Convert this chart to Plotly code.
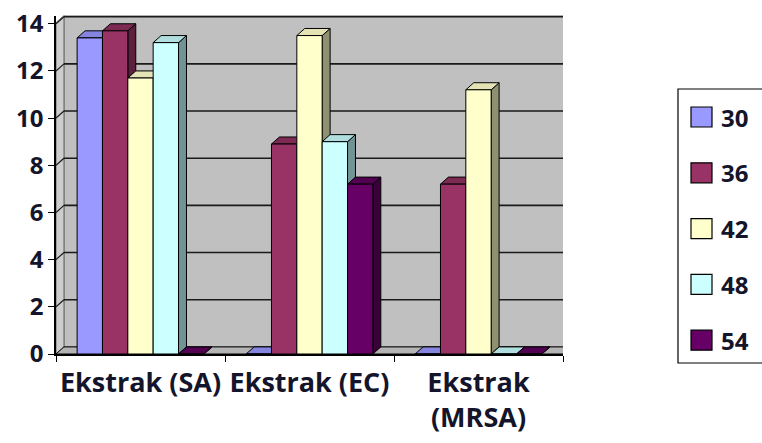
import plotly.graph_objects as go

# ---- data -------------------------------------------------------------
categories = ["Ekstrak (SA)", "Ekstrak (EC)", "Ekstrak<br>(MRSA)"]
series_names = ["30", "36", "42", "48", "54"]
s30 = [13.4, 0.0, 0.0]
s36 = [13.7, 8.9, 7.2]
s42 = [11.7, 13.5, 11.2]
s48 = [13.2, 9.0, 0.0]
s54 = [0.0, 7.2, 0.0]
series_values = [s30, s36, s42, s48, s54]
y_ticks = [0, 2, 4, 6, 8, 10, 12, 14]

# ---- styling ----------------------------------------------------------
W, H = 762, 443
front_colors = ["#9999FF", "#993366", "#FFFFCC", "#CCFFFF", "#660066"]
side_colors = ["#5c5c99", "#5c1f3d", "#8f8f72", "#739494", "#3a003a"]
top_colors = ["#8585e0", "#7d2a53", "#e3e3b5", "#b0dede", "#520052"]
wall_color = "#c0c0c0"
text_color = "#14142a"
FONT = "Open Sans"

BARGAP = 0.25
DX, DY = 0.047, 0.3          # depth offset of the pseudo-3D faces (data units)
Y_TOP = 14.35
n_series = len(series_names)
bar_w = (1 - BARGAP) / n_series
xs = list(range(len(categories)))
x_lo, x_hi = xs[0] - 0.5, xs[-1] + 0.5


def px_x(p):
    return p / W


def px_y(p):
    return 1 - p / H


fig = go.Figure()

for name, vals, col in zip(series_names, series_values, front_colors):
    fig.add_trace(go.Bar(
        x=xs, y=vals, name=name,
        marker=dict(color=col, line=dict(color="black", width=1)),
        showlegend=False, hoverinfo="x+y+name",
    ))

shapes = []
thin = dict(color="#555555", width=0.8)

# back wall and left wall, set back by the depth offset
shapes.append(dict(type="rect", xref="x", yref="y", layer="below",
                   x0=x_lo + DX, x1=x_hi + DX, y0=DY, y1=Y_TOP,
                   fillcolor=wall_color, line=thin))
shapes.append(dict(
    type="path", xref="x", yref="y", layer="below",
    path=(f"M{x_lo},0 L{x_lo + DX},{DY} L{x_lo + DX},{Y_TOP} "
          f"L{x_lo},{Y_TOP - DY} Z"),
    fillcolor="#cdcdcd", line=thin))

# gridlines drawn on the back wall, with their joins on the left wall
for v in y_ticks[1:]:
    shapes.append(dict(type="line", xref="x", yref="y", layer="below",
                       x0=x_lo + DX, x1=x_hi + DX, y0=v + DY, y1=v + DY,
                       line=dict(color="#1a1a1a", width=1.6)))
    shapes.append(dict(type="line", xref="x", yref="y", layer="below",
                       x0=x_lo, x1=x_lo + DX, y0=v, y1=v + DY,
                       line=dict(color="#1a1a1a", width=1.2)))

# floor of the plot
shapes.append(dict(
    type="path", xref="x", yref="y", layer="between",
    path=f"M{x_lo},0 L{x_lo + DX},{DY} L{x_hi + DX},{DY} L{x_hi},0 Z",
    fillcolor="#b4b4b4", line=dict(color="black", width=1),
))

# side and top faces of every column
for i in xs:
    for j in range(n_series):
        h = series_values[j][i]
        left = i - (1 - BARGAP) / 2 + j * bar_w
        right = left + bar_w
        side = (f"M{right},0 L{right + DX},{DY} L{right + DX},{h + DY} "
                f"L{right},{h} Z")
        top = (f"M{left},{h} L{left + DX},{h + DY} L{right + DX},{h + DY} "
               f"L{right},{h} Z")
        shapes.append(dict(type="path", xref="x", yref="y", layer="between",
                           path=side, fillcolor=side_colors[j],
                           line=dict(color="black", width=1)))
        shapes.append(dict(type="path", xref="x", yref="y", layer="between",
                           path=top, fillcolor=top_colors[j],
                           line=dict(color="black", width=1)))

# legend box (runs off the right edge of the page)
shapes.append(dict(type="rect", xref="paper", yref="paper", layer="above",
                   x0=px_x(678), x1=px_x(775), y0=px_y(363), y1=px_y(89),
                   fillcolor="white", line=dict(color="black", width=1.2)))
annotations = []
for k, (name, col) in enumerate(zip(series_names, front_colors)):
    yc = 117 + k * 55.8
    shapes.append(dict(type="rect", xref="paper", yref="paper", layer="above",
                       x0=px_x(691), x1=px_x(712),
                       y0=px_y(yc + 10), y1=px_y(yc - 10),
                       fillcolor=col, line=dict(color="black", width=1.2)))
    annotations.append(dict(xref="paper", yref="paper", x=px_x(719),
                            y=px_y(yc), text=name, showarrow=False,
                            xanchor="left", yanchor="middle",
                            font=dict(family=FONT, size=24, weight="bold",
                                      color=text_color)))

fig.update_layout(
    width=W, height=H,
    margin=dict(l=0, r=0, t=0, b=0),
    paper_bgcolor="white",
    plot_bgcolor="white",
    barmode="group", bargap=BARGAP, bargroupgap=0,
    showlegend=False,
    shapes=shapes,
    annotations=annotations,
    xaxis=dict(
        domain=[px_x(56), px_x(563)],
        range=[x_lo, x_hi],
        tickmode="array", tickvals=xs, ticktext=categories,
        ticks="", showgrid=False, zeroline=False,
        showline=True, linecolor="black", linewidth=1.5,
        minor=dict(tick0=0.5, dtick=1, ticks="outside", ticklen=6,
                   tickcolor="black", showgrid=False),
        tickfont=dict(family=FONT, size=27, weight="bold", color=text_color),
        ticklabelstandoff=4,
        automargin=False,
    ),
    yaxis=dict(
        domain=[1 - 354 / H, 1 - 15.5 / H],
        range=[0, Y_TOP],
        tickmode="array", tickvals=y_ticks,
        ticks="outside", ticklen=6, tickcolor="black",
        showline=True, linecolor="black", linewidth=1.5,
        showgrid=False, zeroline=False,
        tickfont=dict(family=FONT, size=24, weight="bold", color=text_color),
        automargin=False,
    ),
)

fig.write_html("out.html")
